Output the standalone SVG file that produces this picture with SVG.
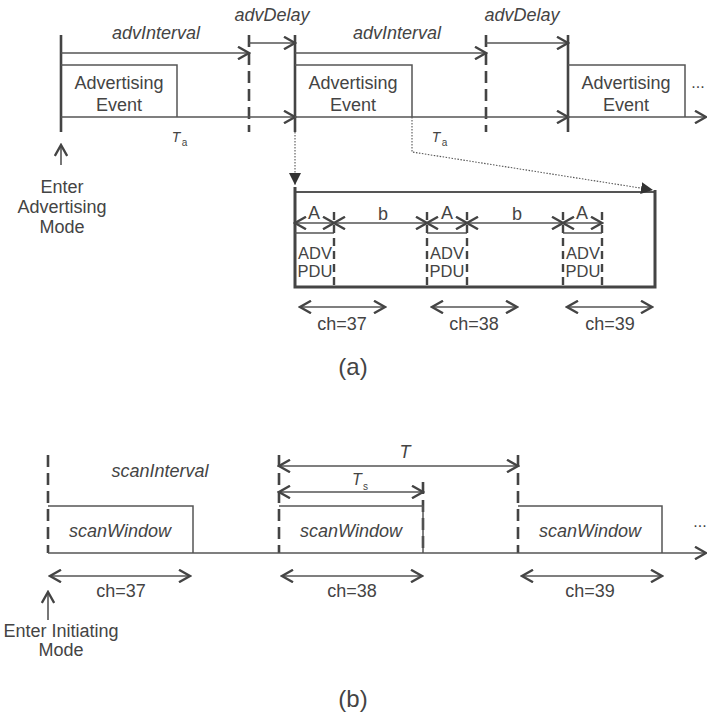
<svg xmlns="http://www.w3.org/2000/svg" width="707" height="715" viewBox="0 0 707 715">
<style>
.thick{stroke:#444;stroke-width:2.6;fill:none}
.thin{stroke:#555;stroke-width:1.5;fill:none}
.dash{stroke:#444;stroke-width:2.6;fill:none;stroke-dasharray:12 6}
.sdash{stroke:#444;stroke-width:2.4;fill:none;stroke-dasharray:8 5}
.arr{stroke:#555;stroke-width:1.6;fill:none;marker-end:url(#chev)}
.darr{stroke:#555;stroke-width:1.6;fill:none;marker-start:url(#chev);marker-end:url(#chev)}
.dot{stroke:#555;stroke-width:1.1;fill:none;stroke-dasharray:1.5 1.5}
text{font-family:"Liberation Sans",Arial,sans-serif;fill:#444;text-anchor:middle}
.it{font-style:italic}
.f18{font-size:18px}
</style>
<defs>
<marker id="chev" markerUnits="userSpaceOnUse" viewBox="0 0 14 14" markerWidth="14" markerHeight="14" refX="12" refY="7" orient="auto-start-reverse">
<path d="M1,0.8 L12,7 L1,13.2" fill="none" stroke="#444" stroke-width="2.4"/>
</marker>
<marker id="tri" markerUnits="userSpaceOnUse" viewBox="0 0 13 12" markerWidth="13" markerHeight="12" refX="12" refY="6" orient="auto">
<path d="M0,0 L12,6 L0,12 z" fill="#333"/>
</marker>
</defs>

<!-- ===== Part (a) ===== -->
<g id="a-timeline-markers">
<line class="thick" x1="61" y1="35" x2="61" y2="132"/>
<line class="dash" x1="249" y1="35" x2="249" y2="132"/>
<line class="thick" x1="295" y1="35" x2="295" y2="132"/>
<line class="dash" x1="486" y1="35" x2="486" y2="132"/>
<line class="thick" x1="568" y1="35" x2="568" y2="132"/>
</g>

<g id="adv-event-1">
<path class="thin" d="M61,65 H177 V117"/>
<text class="f18" x="119" y="89">Advertising</text>
<text class="f18" x="119" y="111">Event</text>
</g>
<g id="adv-event-2">
<path class="thin" d="M295,65 H412 V117"/>
<text class="f18" x="353" y="89">Advertising</text>
<text class="f18" x="353" y="111">Event</text>
</g>
<g id="adv-event-3">
<path class="thin" d="M568,65 H685 V117"/>
<text class="f18" x="626" y="89">Advertising</text>
<text class="f18" x="626" y="111">Event</text>
</g>
<text x="698" y="88" style="font-size:16px">...</text>

<g id="a-labels">
<text class="it f18" x="156" y="39">advInterval</text>
<text class="it f18" x="397" y="39">advInterval</text>
<text class="it f18" x="272" y="21">advDelay</text>
<text class="it f18" x="522" y="21">advDelay</text>
<text class="it" x="176" y="142" style="font-size:14px">T</text>
<text x="184.5" y="146" style="font-size:10px">a</text>
<text class="it" x="436" y="142" style="font-size:14px">T</text>
<text x="444.5" y="146" style="font-size:10px">a</text>
</g>

<g id="enter-adv-mode">
<text class="f18" x="62" y="193">Enter</text>
<text class="f18" x="62" y="213">Advertising</text>
<text class="f18" x="62" y="233">Mode</text>
</g>

<g id="adv-event-detail">
<line stroke="#555" stroke-width="2" x1="295" y1="192" x2="655" y2="192"/>
<path class="thick" d="M295,187 V287 H655 V190" style="stroke-width:3"/>
<g id="pdu-37">
<line class="thin" x1="295" y1="233" x2="334" y2="233"/>
<line class="sdash" x1="334" y1="212" x2="334" y2="287"/>
<text x="315" y="259" style="font-size:16.5px">ADV</text>
<text x="315" y="277" style="font-size:16.5px">PDU</text>
</g>
<g id="pdu-38">
<line class="thin" x1="427" y1="233" x2="467" y2="233"/>
<line class="sdash" x1="427" y1="212" x2="427" y2="287"/>
<line class="sdash" x1="467" y1="212" x2="467" y2="287"/>
<text x="447" y="259" style="font-size:16.5px">ADV</text>
<text x="447" y="277" style="font-size:16.5px">PDU</text>
</g>
<g id="pdu-39">
<line class="thin" x1="563" y1="233" x2="602" y2="233"/>
<line class="sdash" x1="563" y1="212" x2="563" y2="287"/>
<line class="sdash" x1="602" y1="212" x2="602" y2="287"/>
<text x="583" y="259" style="font-size:16.5px">ADV</text>
<text x="583" y="277" style="font-size:16.5px">PDU</text>
</g>
<text class="f18" x="314" y="219">A</text>
<text class="f18" x="447" y="219">A</text>
<text class="f18" x="582" y="219">A</text>
<text class="f18" x="383" y="220">b</text>
<text class="f18" x="517" y="220">b</text>
<text class="f18" x="342" y="330">ch=37</text>
<text class="f18" x="474" y="330">ch=38</text>
<text class="f18" x="610" y="330">ch=39</text>
</g>

<text x="353" y="375" style="font-size:24px">(a)</text>

<!-- ===== Part (b) ===== -->
<g id="b-timeline-markers">
<line class="dash" x1="48" y1="455" x2="48" y2="553"/>
<line class="dash" x1="279" y1="455" x2="279" y2="553"/>
<line class="dash" x1="423" y1="482" x2="423" y2="553"/>
<line class="dash" x1="518" y1="455" x2="518" y2="553"/>
</g>
<g id="scan-window-1">
<path class="thin" d="M48,506 H193 V553"/>
<text class="it f18" x="120" y="537">scanWindow</text>
</g>
<g id="scan-window-2">
<path class="thin" d="M279,506 H423 V553"/>
<text class="it f18" x="351" y="537">scanWindow</text>
</g>
<g id="scan-window-3">
<path class="thin" d="M518,506 H662 V553"/>
<text class="it f18" x="590" y="537">scanWindow</text>
</g>
<text x="700" y="527" style="font-size:16px">...</text>

<g id="b-labels">
<text class="it f18" x="160" y="477">scanInterval</text>
<text class="it" x="405" y="458" style="font-size:18px">T</text>
<text class="it" x="357" y="485" style="font-size:16px">T</text>
<text x="365.5" y="490" style="font-size:10px">s</text>
<text class="f18" x="121" y="597">ch=37</text>
<text class="f18" x="352" y="597">ch=38</text>
<text class="f18" x="590" y="597">ch=39</text>
</g>
<g id="enter-init-mode">
<text class="f18" x="61" y="637">Enter Initiating</text>
<text class="f18" x="61" y="656">Mode</text>
</g>
<text x="353" y="707" style="font-size:24px">(b)</text>

<!-- ===== Connectors ===== -->
<g id="connectors">
<line class="arr" x1="61" y1="53" x2="249" y2="53"/>
<line class="arr" x1="249" y1="43" x2="295" y2="43"/>
<line class="arr" x1="295" y1="53" x2="486" y2="53"/>
<line class="arr" x1="486" y1="43" x2="568" y2="43"/>
<line class="arr" x1="61" y1="117" x2="295" y2="117"/>
<line class="arr" x1="295" y1="117" x2="568" y2="117"/>
<line class="arr" x1="568" y1="117" x2="706" y2="117"/>
<line class="arr" x1="61" y1="165" x2="61" y2="145"/>
<line class="dot" x1="295" y1="132" x2="295" y2="185" marker-end="url(#tri)"/>
<polyline class="dot" points="412,117 412,152 653,190" marker-end="url(#tri)"/>
<line class="darr" x1="295" y1="223" x2="334" y2="223"/>
<line class="darr" x1="334" y1="223" x2="427" y2="223"/>
<line class="darr" x1="427" y1="223" x2="467" y2="223"/>
<line class="darr" x1="467" y1="223" x2="563" y2="223"/>
<line class="darr" x1="563" y1="223" x2="602" y2="223"/>
<line class="darr" x1="300" y1="307" x2="385" y2="307"/>
<line class="darr" x1="432" y1="307" x2="517" y2="307"/>
<line class="darr" x1="567" y1="307" x2="652" y2="307"/>
<line class="arr" x1="48" y1="553" x2="706" y2="553"/>
<line class="darr" x1="279" y1="466" x2="518" y2="466"/>
<line class="darr" x1="279" y1="492" x2="423" y2="492"/>
<line class="darr" x1="50" y1="576" x2="190" y2="576"/>
<line class="darr" x1="282" y1="576" x2="422" y2="576"/>
<line class="darr" x1="522" y1="576" x2="662" y2="576"/>
<line class="arr" x1="48" y1="620" x2="48" y2="592"/>
</g>
</svg>
